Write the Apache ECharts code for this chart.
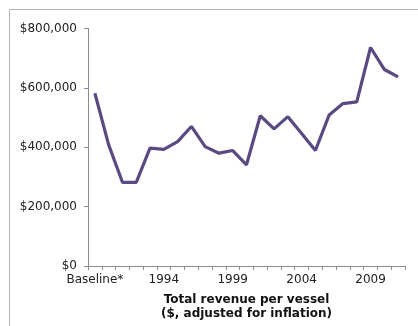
<!DOCTYPE html>
<html>
<head>
<meta charset="utf-8">
<style>
  html, body { margin: 0; padding: 0; background: #fff; }
  #chart { width: 418px; height: 326px; }
</style>
<script src="https://cdn.jsdelivr.net/npm/echarts@6/dist/echarts.min.js"></script>
</head>
<body>
<div id="chart"></div>
<script>
// Revenue per vessel, baseline followed by annual values 1990-2011
const categories = ['Baseline*', '1990', '1991', '1992', '1993', '1994', '1995', '1996',
  '1997', '1998', '1999', '2000', '2001', '2002', '2003', '2004', '2005', '2006',
  '2007', '2008', '2009', '2010', '2011'];
const revenue = [582000, 408000, 282000, 282000, 397000, 393000, 419000, 470000,
  402000, 380000, 389000, 341000, 506000, 462000, 503000, 446000, 389000, 509000,
  547000, 553000, 736000, 662000, 637000];
const yTicks = [0, 200000, 400000, 600000, 800000];

const font = 'DejaVu Sans, Verdana, sans-serif';
const chart = echarts.init(document.getElementById('chart'), null, { renderer: 'canvas' });

chart.setOption({
  animation: false,
  backgroundColor: '#fff',
  graphic: [{
    type: 'rect',
    shape: { x: 9.5, y: 9.5, width: 430, height: 340 },
    style: { fill: 'none', stroke: '#b4b4b4', lineWidth: 1 },
    silent: true
  }],
  grid: { left: 88, right: 13, top: 28.5, bottom: 53.5 },
  xAxis: {
    type: 'category',
    data: categories,
    boundaryGap: true,
    name: 'Total revenue per vessel\n($, adjusted for inflation)',
    nameLocation: 'middle',
    nameGap: 27,
    nameTextStyle: { fontFamily: font, fontSize: 12, fontWeight: 'bold', color: '#111', lineHeight: 14 },
    axisLine: { lineStyle: { color: '#8c8c8c', width: 1 } },
    axisTick: { show: true, interval: 0, length: 4, lineStyle: { color: '#8c8c8c' } },
    axisLabel: { interval: 4, fontFamily: font, fontSize: 12, color: '#222', margin: 8 },
    splitLine: { show: false }
  },
  yAxis: {
    type: 'value',
    min: 0,
    max: 800000,
    interval: 200000,
    axisLine: { show: true, lineStyle: { color: '#8c8c8c', width: 1 } },
    axisTick: { show: true, length: 4, lineStyle: { color: '#8c8c8c' } },
    splitLine: { show: false },
    axisLabel: {
      fontFamily: font, fontSize: 12, color: '#222', margin: 11,
      formatter: v => yTicks.includes(v) ? '$' + v.toLocaleString('en-US') : ''
    }
  },
  series: [{
    type: 'line',
    data: revenue,
    symbol: 'none',
    lineStyle: { color: '#5a4a82', width: 3.2 },
    silent: true
  }]
});
</script>
</body>
</html>
